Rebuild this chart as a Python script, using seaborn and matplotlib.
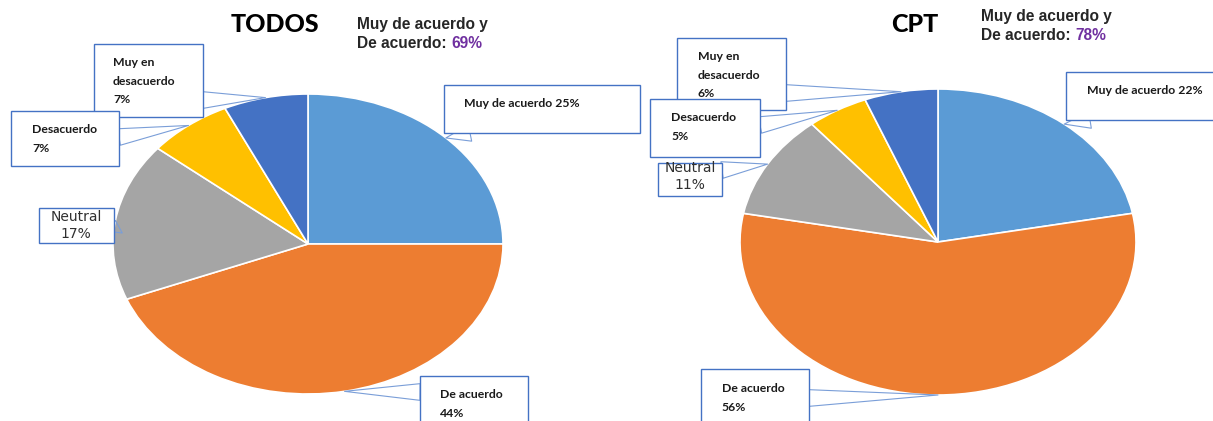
import numpy as np
import matplotlib.pyplot as plt
import seaborn as sns
from matplotlib.patches import Rectangle

sns.set_theme(style="white")
plt.rcParams['font.family'] = ['Lato', 'DejaVu Sans']

# data
categories = ["Muy de acuerdo", "De acuerdo", "Neutral", "Desacuerdo", "Muy en desacuerdo"]
todos_pct = [25, 44, 17, 7, 7]
cpt_pct = [22, 56, 11, 5, 6]
panel_titles = ["TODOS", "CPT"]
acuerdo_total = [69, 78]
colors = ["#5B9BD5", "#ED7D31", "#A5A5A5", "#FFC000", "#4472C4"]

# how each category is written inside its callout
label_names = ["Muy de acuerdo", "De acuerdo", "Neutral", "Desacuerdo", "Muy en\ndesacuerdo"]
label_sep = [" ", "\n", "\n", "\n", "\n"]

W, H = 1213, 421
fig = plt.figure(figsize=(W / 100, H / 100), dpi=100)


def fx(x):
    return x / W


def fy(y):
    return 1 - y / H


# layout in pixels (top-left origin): pie ellipse, title, subtitle, callout boxes
panels = [
    dict(values=todos_pct, center=(308, 244), radii=(195, 150),
         title_xy=(275, 25), sub_xy=(357, 25),
         boxes=[(444, 85, 640, 133), (420, 376, 528, 440), (39, 208, 114, 243),
                (11, 111, 119, 166), (94, 44, 203, 117)],
         text_xy=[(464, 98), (440, 389), (76, 210), (32, 124), (113, 57)],
         tails=[(470, 133), (420, 392), (114, 232), (119, 137), (203, 100)]),
    dict(values=cpt_pct, center=(938, 242), radii=(198, 153),
         title_xy=(915, 25), sub_xy=(981, 17),
         boxes=[(1066, 72, 1240, 120), (701, 369, 809, 440), (658, 163, 722, 196),
                (650, 99, 760, 157), (677, 38, 786, 110)],
         text_xy=[(1087, 85), (722, 383), (690, 161), (671, 112), (698, 51)],
         tails=[(1090, 120), (809, 398), (722, 170), (760, 125), (786, 93)]),
]

box_color = "#4472C4"
lead_color = "#7A9ED8"
draw_order = [0, 1, 2, 4, 3]  # Desacuerdo box sits on top of Muy en desacuerdo box

for p, title, total in zip(panels, panel_titles, acuerdo_total):
    cx, cy = p["center"]
    rx, ry = p["radii"]
    ax = fig.add_axes([fx(cx - rx), fy(cy + ry), 2 * rx / W, 2 * ry / H])
    wedges, _ = ax.pie(p["values"], colors=colors, startangle=90, counterclock=False,
                       wedgeprops=dict(edgecolor="white", linewidth=1.2))
    ax.set_xlim(-1, 1)
    ax.set_ylim(-1, 1)
    ax.set_aspect("auto")

    # leader wedges from each box to the middle of its slice
    for i in draw_order:
        w = wedges[i]
        mid = np.deg2rad((w.theta1 + w.theta2) / 2)
        tx, ty = p["tails"][i]
        ax.annotate("", xy=(np.cos(mid), np.sin(mid)), xycoords="data",
                    xytext=(fx(tx), fy(ty)), textcoords="figure fraction",
                    arrowprops=dict(arrowstyle="wedge,tail_width=1.0,shrink_factor=0.5",
                                    fc="none", ec=lead_color, lw=0.8,
                                    shrinkA=0, shrinkB=0),
                    annotation_clip=False)

    for i in draw_order:
        x0, y0, x1, y1 = p["boxes"][i]
        z = 2.5 if i == 3 else 2.0
        fig.add_artist(Rectangle((fx(x0), fy(y1)), (x1 - x0) / W, (y1 - y0) / H,
                                 transform=fig.transFigure, fc="white", ec=box_color,
                                 lw=1.0, zorder=z))
        txt = f"{label_names[i]}{label_sep[i]}{p['values'][i]}%"
        tx, ty = p["text_xy"][i]
        if categories[i] == "Neutral":
            fig.text(fx(tx), fy(ty), txt, ha="center", va="top", fontsize=10,
                     family=["DejaVu Sans"], color="#303030", linespacing=1.3,
                     zorder=z + 0.1)
        else:
            fig.text(fx(tx), fy(ty), txt, ha="left", va="top", fontsize=8.8,
                     fontweight="bold", color="#1a1a1a", linespacing=1.85,
                     zorder=z + 0.1)

    # titles
    tx, ty = p["title_xy"]
    fig.text(fx(tx), fy(ty), title, ha="center", va="center", fontsize=18,
             fontweight="black", color="black")
    sx, sy = p["sub_xy"]
    fig.text(fx(sx), fy(sy), "Muy de acuerdo y", ha="left", va="center", fontsize=11.2,
             fontweight="bold", family=["Liberation Sans"], color="#262626")
    t2 = fig.text(fx(sx), fy(sy + 19), "De acuerdo: ", ha="left", va="center",
                  fontsize=11.2, fontweight="bold", family=["Liberation Sans"],
                  color="#262626")
    ax.annotate(f"{total}%", xy=(1, 0.5), xycoords=t2, ha="left", va="center",
                fontsize=11.2, fontweight="bold", family=["Liberation Sans"],
                color="#7030A0", annotation_clip=False)

fig.savefig("out.png", dpi=100, facecolor="white")
